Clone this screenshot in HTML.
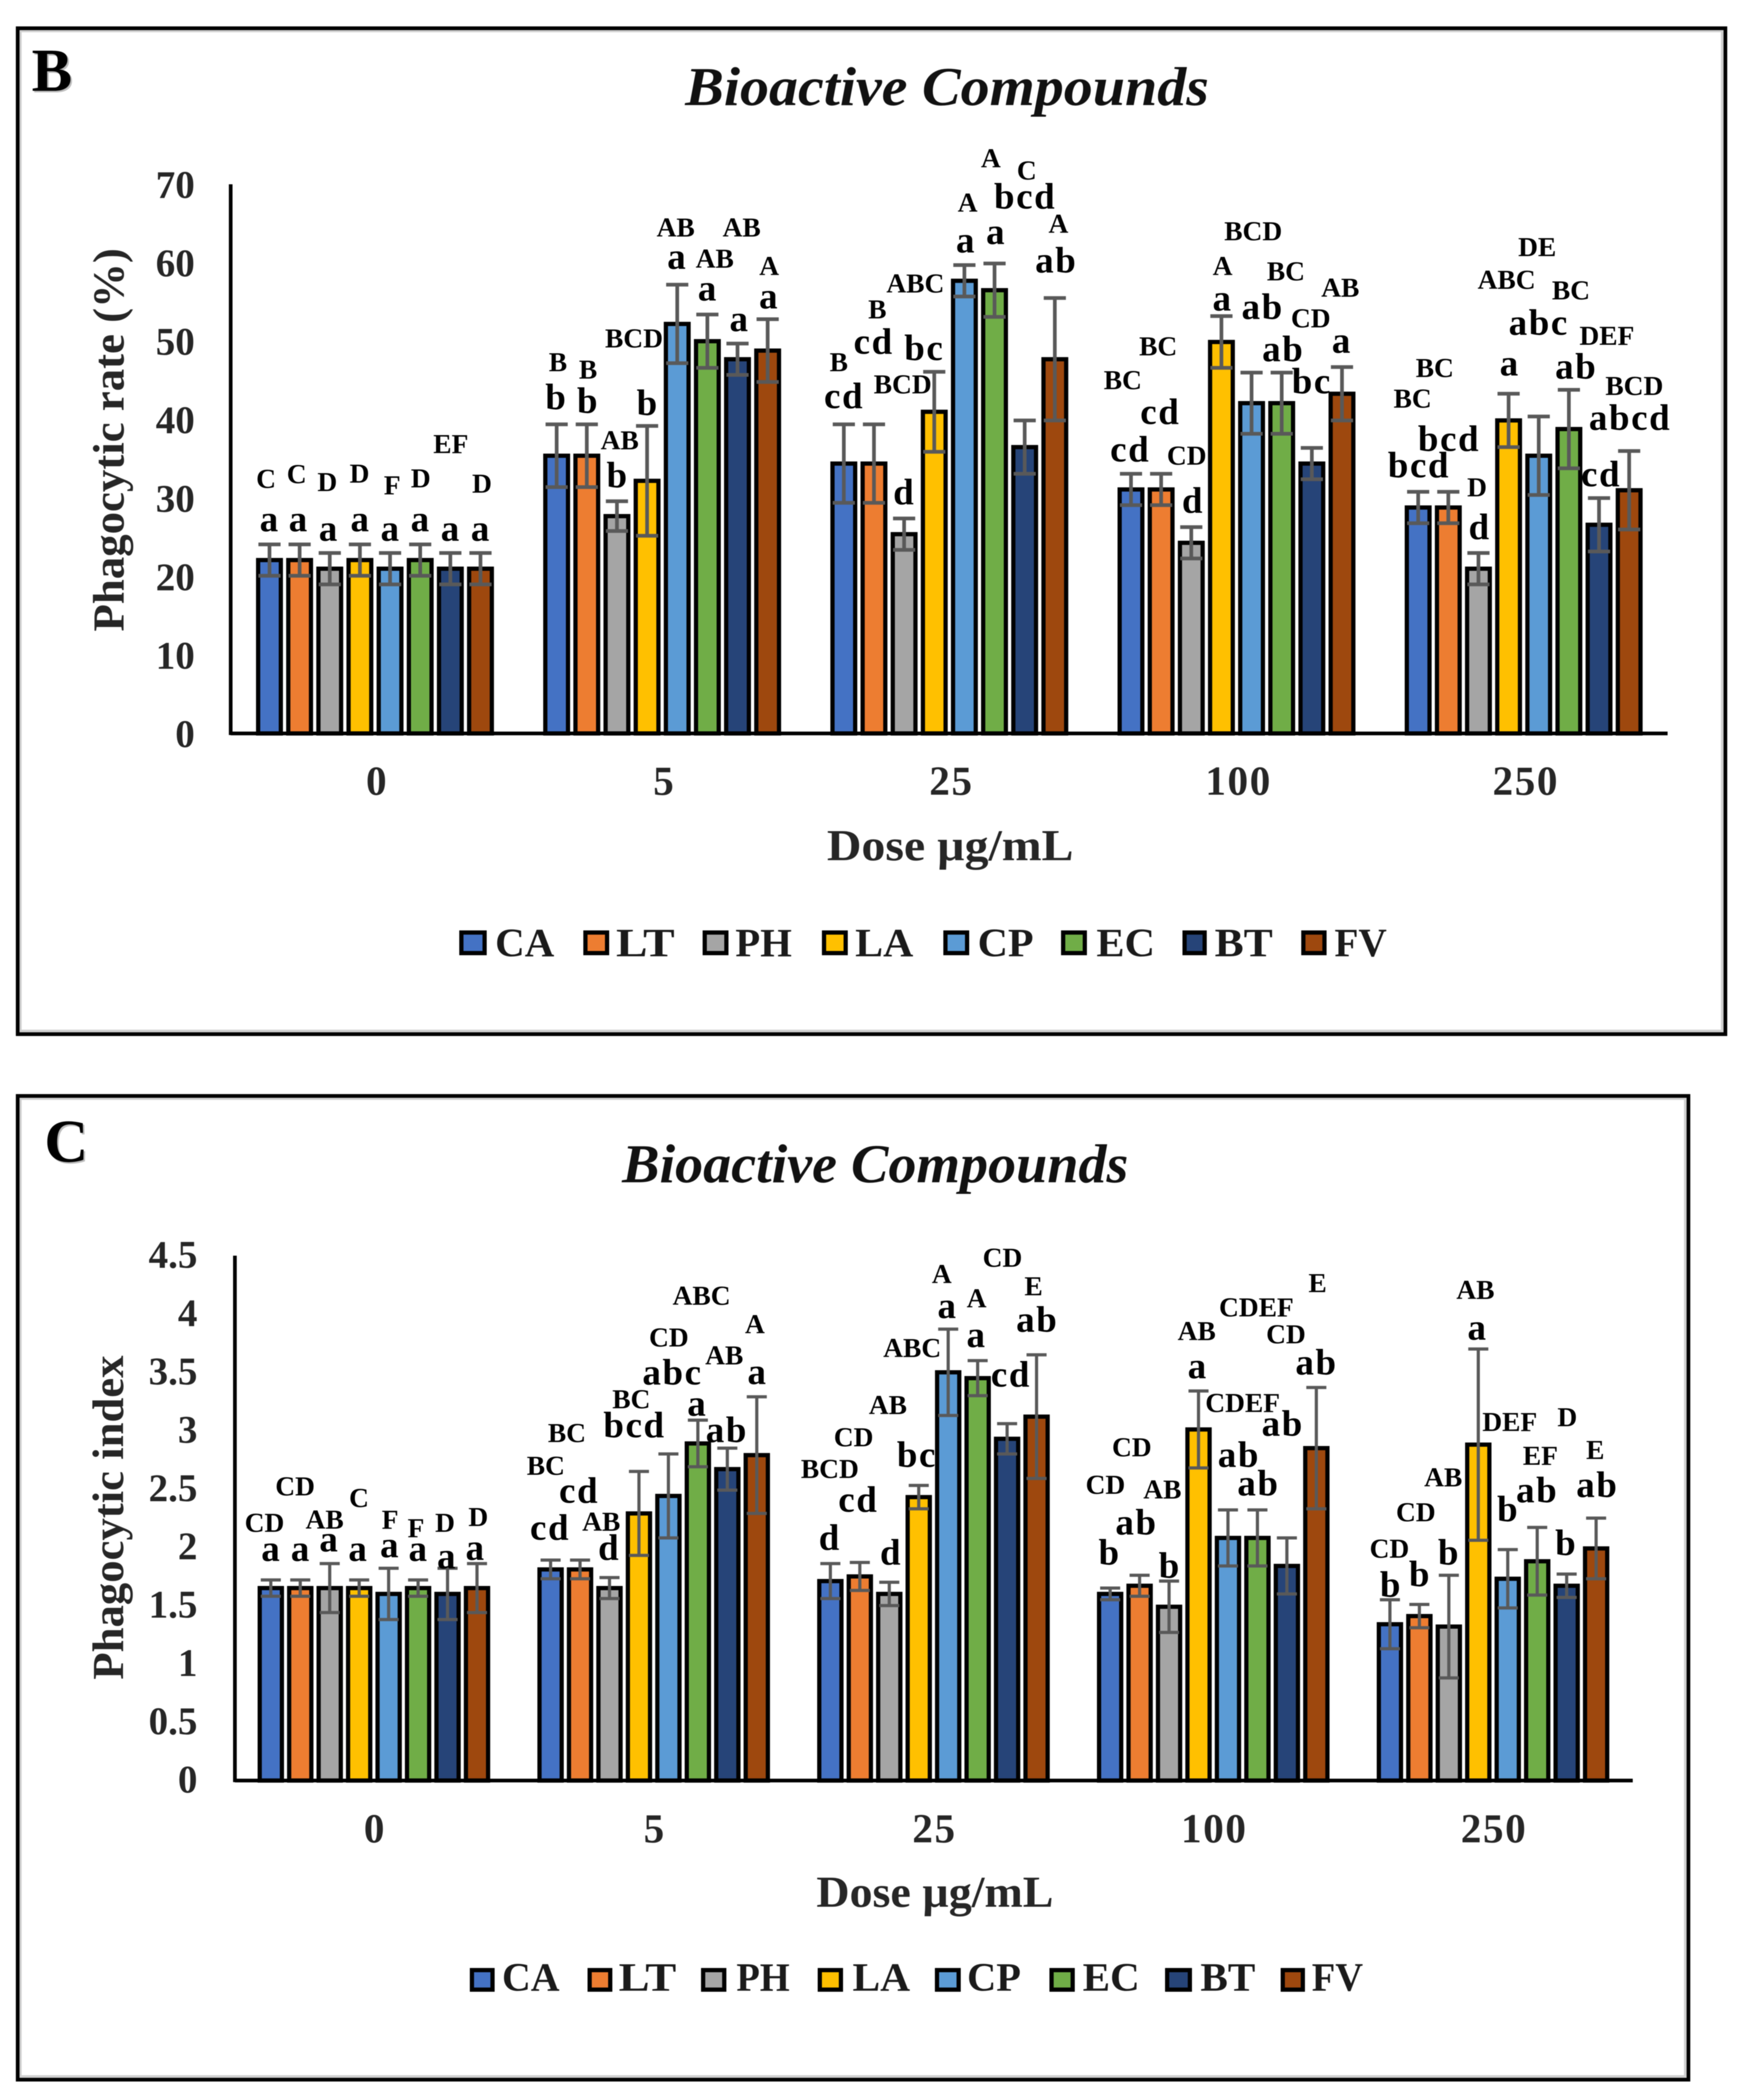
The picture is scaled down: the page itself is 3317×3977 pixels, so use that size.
<!DOCTYPE html>
<html lang="en">
<head>
<meta charset="utf-8">
<title>Bioactive Compounds: phagocytic rate and index</title>
<style>
html,body{margin:0;padding:0;background:#fff;width:3317px;height:3977px;overflow:hidden}
svg{display:block;filter:blur(.9px)}
text{font-family:"Liberation Serif",serif;font-weight:bold;fill:#000}
.lo{font-size:70px;text-anchor:middle;letter-spacing:3px}
.up{font-size:52px;text-anchor:middle}
.tick{font-size:74px;fill:#262626}
.dose{font-size:78px;fill:#262626;text-anchor:middle;letter-spacing:3px}
.axt{font-size:84px;fill:#262626;text-anchor:middle}
.ttl{font-size:104px;font-style:italic;text-anchor:middle;fill:#111}
.pl{font-size:115px}
.leg{font-size:76px;fill:#1a1a1a}
.s0{fill:#4472C4}.s1{fill:#ED7D31}.s2{fill:#A5A5A5}.s3{fill:#FFC000}
.s4{fill:#5B9BD5}.s5{fill:#70AD47}.s6{fill:#264478}.s7{fill:#9E480E}
.bar,.sw{stroke:#000;stroke-width:8}
.err{stroke:#595959;fill:none}
.ax{stroke:#000;stroke-width:7;fill:none}
.frame{fill:none;stroke:#000;stroke-width:7}
.halo{fill:none;stroke:#cfcfcf;stroke-width:5}
.shadow{fill:#bdbdbd}
</style>
</head>
<body>
<svg xmlns="http://www.w3.org/2000/svg" width="3317" height="3977" viewBox="0 0 3317 3977">
<rect x="0" y="0" width="3317" height="3977" fill="#fff"/>

<!-- Panel B -->
<g>
<rect class="halo" x="38.5" y="58.5" width="3224" height="1894"/>
<rect class="frame" x="33.5" y="53.5" width="3235" height="1905"/>
<text class="shadow pl" x="63" y="175">B</text>
<text class="pl" x="60" y="172">B</text>
<text class="ttl" x="1794" y="199" textLength="992" lengthAdjust="spacingAndGlyphs">Bioactive Compounds</text>
<text class="axt" transform="translate(234 833) rotate(-90)" textLength="726" lengthAdjust="spacingAndGlyphs">Phagocytic rate (%)</text>
<text class="axt" x="1800" y="1629" textLength="467" lengthAdjust="spacingAndGlyphs">Dose µg/mL</text>
<g id="chart-b"></g>

<g>
<g><rect class="sw s0" x="874" y="1766" width="44" height="39"/><text class="leg" x="938" y="1811" textLength="112" lengthAdjust="spacingAndGlyphs">CA</text></g>
<g><rect class="sw s1" x="1109" y="1766" width="41" height="39"/><text class="leg" x="1167" y="1811" textLength="111" lengthAdjust="spacingAndGlyphs">LT</text></g>
<g><rect class="sw s2" x="1335" y="1766" width="41" height="39"/><text class="leg" x="1393" y="1811" textLength="107" lengthAdjust="spacingAndGlyphs">PH</text></g>
<g><rect class="sw s3" x="1561" y="1766" width="41" height="39"/><text class="leg" x="1620" y="1811" textLength="110" lengthAdjust="spacingAndGlyphs">LA</text></g>
<g><rect class="sw s4" x="1791" y="1766" width="41" height="39"/><text class="leg" x="1852" y="1811" textLength="106" lengthAdjust="spacingAndGlyphs">CP</text></g>
<g><rect class="sw s5" x="2014" y="1766" width="41" height="39"/><text class="leg" x="2077" y="1811" textLength="111" lengthAdjust="spacingAndGlyphs">EC</text></g>
<g><rect class="sw s6" x="2244" y="1766" width="38" height="39"/><text class="leg" x="2301" y="1811" textLength="110" lengthAdjust="spacingAndGlyphs">BT</text></g>
<g><rect class="sw s7" x="2469" y="1766" width="40" height="39"/><text class="leg" x="2528" y="1811" textLength="99" lengthAdjust="spacingAndGlyphs">FV</text></g>
</g>

<g>
<text class="up" x="504" y="924">C</text>
<text class="up" x="562" y="915">C</text>
<text class="up" x="620" y="930">D</text>
<text class="up" x="681" y="914">D</text>
<text class="up" x="743" y="936">F</text>
<text class="up" x="797" y="923">D</text>
<text class="up" x="854" y="858">EF</text>
<text class="up" x="913" y="933">D</text>
<text class="lo" x="511" y="1006">a</text>
<text class="lo" x="566" y="1006">a</text>
<text class="lo" x="623" y="1024">a</text>
<text class="lo" x="683" y="1006">a</text>
<text class="lo" x="740" y="1024">a</text>
<text class="lo" x="797" y="1006">a</text>
<text class="lo" x="854" y="1024">a</text>
<text class="lo" x="911" y="1024">a</text>

<text class="lo" x="1054" y="775">b</text>
<text class="lo" x="1114" y="782">b</text>
<text class="lo" x="1170" y="923">b</text>
<text class="lo" x="1227" y="786">b</text>
<text class="lo" x="1283" y="509">a</text>
<text class="lo" x="1341" y="569">a</text>
<text class="lo" x="1401" y="627">a</text>
<text class="lo" x="1457" y="584">a</text>
<text class="up" x="1057" y="703">B</text>
<text class="up" x="1114" y="717">B</text>
<text class="up" x="1174" y="851">AB</text>
<text class="up" x="1201" y="658">BCD</text>
<text class="up" x="1280" y="448">AB</text>
<text class="up" x="1354" y="507">AB</text>
<text class="up" x="1405" y="448">AB</text>
<text class="up" x="1457" y="521">A</text>

<text class="up" x="1589" y="703">B</text>
<text class="lo" x="1599" y="773">cd</text>
<text class="up" x="1662" y="603">B</text>
<text class="lo" x="1655" y="670">cd</text>
<text class="up" x="1710" y="745">BCD</text>
<text class="lo" x="1713" y="955">d</text>
<text class="lo" x="1751" y="682">bc</text>
<text class="up" x="1734" y="554">ABC</text>
<text class="lo" x="1830" y="478">a</text>
<text class="up" x="1833" y="401">A</text>
<text class="lo" x="1887" y="462">a</text>
<text class="lo" x="1942" y="395">bcd</text>
<text class="up" x="1945" y="340">C</text>
<text class="up" x="1877" y="317">A</text>
<text class="lo" x="2001" y="516">ab</text>
<text class="up" x="2005" y="441">A</text>

<text class="lo" x="2141" y="874">cd</text>
<text class="up" x="2127" y="737">BC</text>
<text class="lo" x="2198" y="803">cd</text>
<text class="up" x="2194" y="673">BC</text>
<text class="lo" x="2260" y="971">d</text>
<text class="up" x="2248" y="880">CD</text>
<text class="lo" x="2316" y="588">a</text>
<text class="up" x="2316" y="521">A</text>
<text class="up" x="2374" y="455">BCD</text>
<text class="lo" x="2392" y="604">ab</text>
<text class="up" x="2436" y="531">BC</text>
<text class="lo" x="2431" y="684">ab</text>
<text class="up" x="2483" y="620">CD</text>
<text class="lo" x="2485" y="745">bc</text>
<text class="lo" x="2542" y="668">a</text>
<text class="up" x="2539" y="562">AB</text>

<text class="lo" x="2688" y="904">bcd</text>
<text class="up" x="2676" y="772">BC</text>
<text class="lo" x="2745" y="854">bcd</text>
<text class="up" x="2718" y="714">BC</text>
<text class="lo" x="2803" y="1021">d</text>
<text class="up" x="2798" y="940">D</text>
<text class="lo" x="2860" y="711">a</text>
<text class="up" x="2854" y="547">ABC</text>
<text class="lo" x="2915" y="634">abc</text>
<text class="up" x="2912" y="485">DE</text>
<text class="lo" x="2986" y="717">ab</text>
<text class="up" x="2976" y="567">BC</text>
<text class="up" x="3044" y="653">DEF</text>
<text class="lo" x="3033" y="921">cd</text>
<text class="lo" x="3088" y="814">abcd</text>
<text class="up" x="3096" y="748">BCD</text>
</g>
</g>

<!-- Panel C -->
<g>
<rect class="halo" x="38.5" y="2080.5" width="3154" height="1852"/>
<rect class="frame" x="33.5" y="2075.5" width="3165" height="1863"/>
<text class="shadow pl" x="87" y="2203">C</text>
<text class="pl" x="84" y="2200">C</text>
<text class="ttl" x="1658" y="2239" textLength="959" lengthAdjust="spacingAndGlyphs">Bioactive Compounds</text>
<text class="axt" transform="translate(233 2874) rotate(-90)" textLength="614" lengthAdjust="spacingAndGlyphs">Phagocytic index</text>
<text class="axt" x="1771" y="3611" textLength="449" lengthAdjust="spacingAndGlyphs">Dose µg/mL</text>
<g id="chart-c"></g>

<g>
<g><rect class="sw s0" x="894" y="3731" width="39" height="37"/><text class="leg" x="951" y="3770" textLength="109" lengthAdjust="spacingAndGlyphs">CA</text></g>
<g><rect class="sw s1" x="1117" y="3731" width="39" height="37"/><text class="leg" x="1172" y="3770" textLength="109" lengthAdjust="spacingAndGlyphs">LT</text></g>
<g><rect class="sw s2" x="1332" y="3731" width="40" height="37"/><text class="leg" x="1395" y="3770" textLength="101" lengthAdjust="spacingAndGlyphs">PH</text></g>
<g><rect class="sw s3" x="1553" y="3731" width="40" height="37"/><text class="leg" x="1615" y="3770" textLength="109" lengthAdjust="spacingAndGlyphs">LA</text></g>
<g><rect class="sw s4" x="1775" y="3731" width="41" height="37"/><text class="leg" x="1832" y="3770" textLength="102" lengthAdjust="spacingAndGlyphs">CP</text></g>
<g><rect class="sw s5" x="1992" y="3731" width="40" height="37"/><text class="leg" x="2051" y="3770" textLength="108" lengthAdjust="spacingAndGlyphs">EC</text></g>
<g><rect class="sw s6" x="2211" y="3731" width="43" height="37"/><text class="leg" x="2274" y="3770" textLength="104" lengthAdjust="spacingAndGlyphs">BT</text></g>
<g><rect class="sw s7" x="2430" y="3731" width="38" height="37"/><text class="leg" x="2485" y="3770" textLength="97" lengthAdjust="spacingAndGlyphs">FV</text></g>
</g>

<g>
<text class="up" x="501" y="2901">CD</text>
<text class="up" x="559" y="2832">CD</text>
<text class="up" x="615" y="2895">AB</text>
<text class="up" x="680" y="2854">C</text>
<text class="up" x="739" y="2895">F</text>
<text class="up" x="788" y="2911">F</text>
<text class="up" x="843" y="2901">D</text>
<text class="up" x="906" y="2890">D</text>
<text class="lo" x="514" y="2956">a</text>
<text class="lo" x="570" y="2956">a</text>
<text class="lo" x="624" y="2938">a</text>
<text class="lo" x="679" y="2956">a</text>
<text class="lo" x="739" y="2949">a</text>
<text class="lo" x="793" y="2956">a</text>
<text class="lo" x="847" y="2970">a</text>
<text class="lo" x="901" y="2954">a</text>

<text class="lo" x="1042" y="2916">cd</text>
<text class="up" x="1034" y="2793">BC</text>
<text class="lo" x="1097" y="2846">cd</text>
<text class="up" x="1074" y="2731">BC</text>
<text class="lo" x="1154" y="2954">d</text>
<text class="up" x="1139" y="2899">AB</text>
<text class="lo" x="1202" y="2722">bcd</text>
<text class="up" x="1196" y="2667">BC</text>
<text class="lo" x="1274" y="2622">abc</text>
<text class="up" x="1267" y="2550">CD</text>
<text class="lo" x="1321" y="2681">a</text>
<text class="up" x="1329" y="2471">ABC</text>
<text class="lo" x="1377" y="2731">ab</text>
<text class="up" x="1372" y="2584">AB</text>
<text class="lo" x="1435" y="2621">a</text>
<text class="up" x="1430" y="2525">A</text>

<text class="lo" x="1572" y="2935">d</text>
<text class="up" x="1572" y="2799">BCD</text>
<text class="lo" x="1626" y="2863">cd</text>
<text class="up" x="1617" y="2739">CD</text>
<text class="lo" x="1688" y="2963">d</text>
<text class="up" x="1682" y="2678">AB</text>
<text class="lo" x="1737" y="2778">bc</text>
<text class="up" x="1728" y="2570">ABC</text>
<text class="lo" x="1795" y="2496">a</text>
<text class="up" x="1784" y="2430">A</text>
<text class="lo" x="1850" y="2551">a</text>
<text class="up" x="1850" y="2476">A</text>
<text class="lo" x="1915" y="2626">cd</text>
<text class="up" x="1899" y="2399">CD</text>
<text class="lo" x="1965" y="2522">ab</text>
<text class="up" x="1958" y="2453">E</text>

<text class="lo" x="2102" y="2963">b</text>
<text class="up" x="2094" y="2829">CD</text>
<text class="lo" x="2153" y="2906">ab</text>
<text class="up" x="2144" y="2758">CD</text>
<text class="lo" x="2216" y="2988">b</text>
<text class="up" x="2202" y="2838">AB</text>
<text class="lo" x="2269" y="2610">a</text>
<text class="up" x="2267" y="2538">AB</text>
<text class="up" x="2354" y="2674">CDEF</text>
<text class="lo" x="2347" y="2778">ab</text>
<text class="up" x="2380" y="2493">CDEF</text>
<text class="lo" x="2384" y="2832">ab</text>
<text class="lo" x="2430" y="2719">ab</text>
<text class="up" x="2436" y="2544">CD</text>
<text class="lo" x="2494" y="2603">ab</text>
<text class="up" x="2496" y="2447">E</text>

<text class="up" x="2632" y="2950">CD</text>
<text class="lo" x="2635" y="3024">b</text>
<text class="lo" x="2690" y="3004">b</text>
<text class="up" x="2682" y="2881">CD</text>
<text class="up" x="2734" y="2815">AB</text>
<text class="lo" x="2745" y="2963">b</text>
<text class="lo" x="2799" y="2537">a</text>
<text class="up" x="2795" y="2460">AB</text>
<text class="up" x="2860" y="2710">DEF</text>
<text class="lo" x="2857" y="2881">b</text>
<text class="lo" x="2912" y="2845">ab</text>
<text class="up" x="2918" y="2774">EF</text>
<text class="up" x="2969" y="2701">D</text>
<text class="lo" x="2967" y="2945">b</text>
<text class="lo" x="3026" y="2835">ab</text>
<text class="up" x="3022" y="2763">E</text>
</g>
</g>
</svg>

<script>
const doseLabels = ['0', '5', '25', '100', '250'];
const seriesNames = ['CA', 'LT', 'PH', 'LA', 'CP', 'EC', 'BT', 'FV'];

const rateTicks = [0, 10, 20, 30, 40, 50, 60, 70];
const rateDose0 = [22.1, 22.1, 21, 22.1, 21, 22.1, 21, 21];
const rateDose5 = [35.4, 35.4, 27.7, 32.2, 52.2, 50, 47.7, 48.8];
const rateDose25 = [34.4, 34.4, 25.4, 41, 57.7, 56.5, 36.5, 47.7];
const rateDose100 = [31.1, 31.1, 24.3, 49.9, 42.1, 42.1, 34.4, 43.3];
const rateDose250 = [28.8, 28.8, 21, 39.9, 35.4, 38.8, 26.6, 31];
const rateErr0 = [2, 2, 2, 2, 2, 2, 2, 2];
const rateErr5 = [4, 4, 1.9, 7, 5, 3.4, 2, 4];
const rateErr25 = [5, 5, 2, 5.1, 2, 3.4, 3.4, 7.8];
const rateErr100 = [2, 2, 2, 3.3, 3.9, 3.9, 2, 3.4];
const rateErr250 = [2, 2, 2, 3.4, 5, 5, 3.4, 5];

const indexTicks = ['0', '0.5', '1', '1.5', '2', '2.5', '3', '3.5', '4', '4.5'];
const indexDose0 = [1.65, 1.65, 1.65, 1.65, 1.6, 1.65, 1.6, 1.65];
const indexDose5 = [1.81, 1.81, 1.65, 2.29, 2.44, 2.89, 2.67, 2.79];
const indexDose25 = [1.71, 1.75, 1.6, 2.43, 3.5, 3.45, 2.93, 3.12];
const indexDose100 = [1.6, 1.67, 1.49, 3.01, 2.08, 2.08, 1.84, 2.85];
const indexDose250 = [1.34, 1.41, 1.32, 2.88, 1.73, 1.88, 1.67, 1.99];
const indexErr0 = [0.07, 0.07, 0.21, 0.07, 0.22, 0.07, 0.22, 0.21];
const indexErr5 = [0.08, 0.08, 0.09, 0.36, 0.36, 0.2, 0.18, 0.5];
const indexErr25 = [0.15, 0.12, 0.1, 0.1, 0.37, 0.15, 0.13, 0.53];
const indexErr100 = [0.05, 0.09, 0.22, 0.33, 0.24, 0.24, 0.24, 0.52];
const indexErr250 = [0.21, 0.1, 0.44, 0.82, 0.25, 0.29, 0.1, 0.26];

const SVGNS = 'http://www.w3.org/2000/svg';

function make(tag, parent, attrs) {
  const el = document.createElementNS(SVGNS, tag);
  for (const k in attrs) el.setAttribute(k, attrs[k]);
  parent.appendChild(el);
  return el;
}

function drawChart(cfg) {
  const root = document.getElementById(cfg.id);
  const yScale = function (v) { return cfg.baseY - (v / cfg.maxV) * (cfg.baseY - cfg.topY); };
  const xLeft = function (g, s) { return cfg.startX + g * cfg.groupStep + s * cfg.barStep; };
  const sw = 8;

  cfg.values.forEach(function (row, g) {
    row.forEach(function (v, s) {
      const bar = make('rect', root, {
        class: 'bar s' + s,
        x: xLeft(g, s) + sw / 2,
        y: yScale(v),
        width: cfg.barW - sw,
        height: cfg.baseY - yScale(v)
      });
      
      
    });
  });

  cfg.values.forEach(function (row, g) {
    row.forEach(function (v, s) {
      const cx = xLeft(g, s) + cfg.barW / 2;
      const hi = yScale(v + cfg.errors[g][s]);
      const lo = yScale(v - cfg.errors[g][s]);
      const d = 'M' + cx + ' ' + hi + 'V' + lo +
        'M' + (cx - cfg.capW / 2) + ' ' + hi + 'H' + (cx + cfg.capW / 2) +
        'M' + (cx - cfg.capW / 2) + ' ' + lo + 'H' + (cx + cfg.capW / 2);
      const err = make('path', root, { class: 'err', d: d, 'stroke-width': cfg.errW });
      
      
    });
  });

  const yAxis = make('line', root, { class: 'ax', x1: cfg.axisX, x2: cfg.axisX, y1: cfg.topY, y2: cfg.baseY + 3 });
  
  
  const xAxis = make('line', root, { class: 'ax', x1: cfg.axisX, x2: cfg.axisEnd, y1: cfg.baseY, y2: cfg.baseY });
  
  

  cfg.ticks.forEach(function (t) {
    const lab = make('text', root, { class: 'tick', x: cfg.tickX, y: yScale(parseFloat(t)) + cfg.tickDrop, 'text-anchor': 'end' });
    lab.textContent = t;
    
    
  });

  doseLabels.forEach(function (t, g) {
    const cx = xLeft(g, 0) + (7 * cfg.barStep + cfg.barW) / 2 + cfg.doseShift;
    const lab = make('text', root, { class: 'dose', x: cx, y: cfg.doseY });
    lab.textContent = t;
    
    
  });
}

drawChart({
  id: 'chart-b',
  values: [rateDose0, rateDose5, rateDose25, rateDose100, rateDose250],
  errors: [rateErr0, rateErr5, rateErr25, rateErr100, rateErr250],
  ticks: rateTicks.map(String),
  maxV: 70, baseY: 1389, topY: 349, axisX: 437, axisEnd: 3159,
  startX: 485, groupStep: 544, barStep: 57.1, barW: 51,
  capW: 42, errW: 7, tickX: 369, tickDrop: 26, doseY: 1505, doseShift: 4
});

drawChart({
  id: 'chart-c',
  values: [indexDose0, indexDose5, indexDose25, indexDose100, indexDose250],
  errors: [indexErr0, indexErr5, indexErr25, indexErr100, indexErr250],
  ticks: indexTicks,
  maxV: 4.5, baseY: 3372, topY: 2378, axisX: 445, axisEnd: 3093,
  startX: 488, groupStep: 530, barStep: 55.8, barW: 50,
  capW: 38, errW: 6, tickX: 374, tickDrop: 23, doseY: 3489, doseShift: 2
});
</script>
</body>
</html>
